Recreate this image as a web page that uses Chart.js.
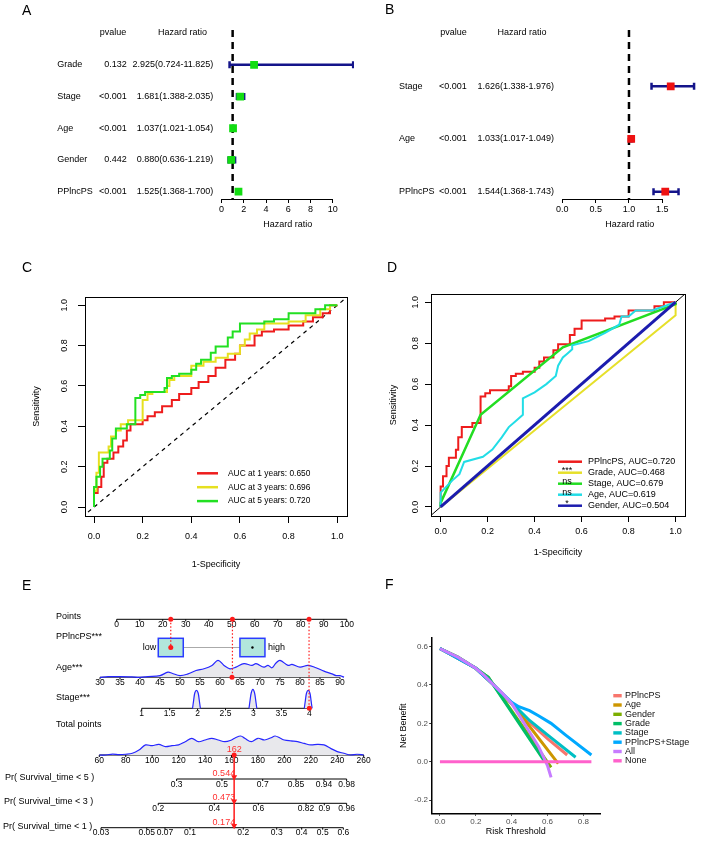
<!DOCTYPE html>
<html>
<head>
<meta charset="utf-8">
<title>Prognostic model figure</title>
<script src="https://cdn.jsdelivr.net/npm/chart.js@4.4.1/dist/chart.umd.min.js"></script>
<style>
  html, body { margin: 0; padding: 0; background: #fff; }
  #fig { position: relative; width: 708px; height: 843px; overflow: hidden; }
  #fig canvas { position: absolute; }
  .tag { position: absolute; font: 14px/14px "Liberation Sans", Arial, sans-serif; color: #000; }
</style>
</head>
<body>
<div id="fig">
  <canvas id="chartA" width="354" height="285" style="left:0;top:0"></canvas>
  <canvas id="chartB" width="354" height="285" style="left:354px;top:0"></canvas>
  <canvas id="chartC" width="354" height="290" style="left:0;top:285px"></canvas>
  <canvas id="chartD" width="354" height="290" style="left:354px;top:285px"></canvas>
  <canvas id="chartF" width="354" height="273" style="left:354px;top:570px"></canvas>
  <canvas id="chartE" width="380" height="273" style="left:0;top:570px"></canvas>
  <div class="tag" style="left:22px;top:3px">A</div>
  <div class="tag" style="left:385px;top:2px">B</div>
  <div class="tag" style="left:22px;top:260px">C</div>
  <div class="tag" style="left:387px;top:260px">D</div>
  <div class="tag" style="left:22px;top:578px">E</div>
  <div class="tag" style="left:385px;top:577px">F</div>
</div>
<script>
// ---- A: univariate Cox regression
const uniVars = ['Grade', 'Stage', 'Age', 'Gender', 'PPlncPS'];
const uniP = ['0.132', '<0.001', '<0.001', '0.442', '<0.001'];
const uniHR = [2.925, 1.681, 1.037, 0.880, 1.525];
const uniLow = [0.724, 1.388, 1.021, 0.636, 1.368];
const uniHigh = [11.825, 2.035, 1.054, 1.219, 1.700];
const uniTicks = [0, 2, 4, 6, 8, 10];

// ---- B: multivariate Cox regression
const multiVars = ['Stage', 'Age', 'PPlncPS'];
const multiP = ['<0.001', '<0.001', '<0.001'];
const multiHR = [1.626, 1.033, 1.544];
const multiLow = [1.338, 1.017, 1.368];
const multiHigh = [1.976, 1.049, 1.743];
const multiTicks = [0, 0.5, 1.0, 1.5];

// ---- C: time dependent ROC
const rocTicks = [0, 0.2, 0.4, 0.6, 0.8, 1.0];
const rocYears = [1, 3, 5];
const rocYearAuc = [0.650, 0.696, 0.720];
const roc1yFpr = [0, 0, 0.015, 0.03, 0.04, 0.055, 0.08, 0.1, 0.12, 0.135, 0.15, 0.2, 0.22, 0.25, 0.28, 0.32, 0.35, 0.4, 0.43, 0.47, 0.5, 0.54, 0.58, 0.6, 0.66, 0.69, 0.74, 0.8, 0.86, 0.9, 0.94, 0.97, 1];
const roc1yTpr = [0, 0.05, 0.07, 0.1, 0.15, 0.22, 0.24, 0.27, 0.3, 0.33, 0.38, 0.41, 0.43, 0.45, 0.47, 0.5, 0.53, 0.56, 0.59, 0.62, 0.65, 0.69, 0.73, 0.76, 0.8, 0.85, 0.87, 0.88, 0.9, 0.92, 0.94, 0.96, 1];
const roc3yFpr = [0, 0.01, 0.02, 0.06, 0.07, 0.09, 0.11, 0.14, 0.2, 0.22, 0.24, 0.3, 0.31, 0.33, 0.4, 0.45, 0.5, 0.55, 0.6, 0.62, 0.64, 0.67, 0.7, 0.8, 0.87, 0.93, 0.97, 1];
const roc3yTpr = [0, 0.08, 0.17, 0.27, 0.3, 0.35, 0.38, 0.41, 0.43, 0.53, 0.56, 0.57, 0.6, 0.63, 0.65, 0.7, 0.72, 0.74, 0.76, 0.8, 0.83, 0.86, 0.88, 0.91, 0.92, 0.95, 0.98, 1];
const roc5yFpr = [0, 0.01, 0.025, 0.035, 0.065, 0.075, 0.09, 0.135, 0.17, 0.19, 0.21, 0.29, 0.3, 0.32, 0.35, 0.4, 0.42, 0.44, 0.48, 0.5, 0.55, 0.57, 0.6, 0.7, 0.74, 0.8, 0.91, 0.95, 0.98, 1];
const roc5yTpr = [0, 0.1, 0.15, 0.2, 0.24, 0.28, 0.34, 0.39, 0.41, 0.54, 0.555, 0.57, 0.59, 0.64, 0.65, 0.66, 0.68, 0.71, 0.73, 0.765, 0.795, 0.84, 0.87, 0.91, 0.92, 0.93, 0.96, 0.98, 1.0, 1];

// ---- D: ROC of each variable (PPlncPS curve is the 5-year curve)
const varNames = ['PPlncPS', 'Grade', 'Stage', 'Age', 'Gender'];
const varAuc = [0.720, 0.468, 0.679, 0.619, 0.504];
const varSig = ['', '***', 'ns', 'ns', '*'];
const gradeFpr = [0, 1, 1];
const gradeTpr = [0, 0.936, 1];
const stageFpr = [0, 0, 0.17, 0.52, 1, 1];
const stageTpr = [0, 0.02, 0.45, 0.78, 0.99, 1];
const ageFpr = [0, 0, 0.05, 0.08, 0.1, 0.18, 0.22, 0.26, 0.29, 0.32, 0.35, 0.35, 0.4, 0.45, 0.49, 0.5, 0.52, 0.54, 0.56, 0.56, 0.63, 0.7, 0.76, 0.77, 0.8, 0.83, 0.9, 1];
const ageTpr = [0, 0.07, 0.13, 0.16, 0.22, 0.245, 0.28, 0.34, 0.39, 0.42, 0.45, 0.53, 0.56, 0.6, 0.64, 0.69, 0.73, 0.75, 0.77, 0.79, 0.81, 0.85, 0.89, 0.93, 0.93, 0.96, 0.96, 1];
const genderFpr = [0, 1];
const genderTpr = [0, 1];

// ---- E: nomogram
const pointsTicks = [0, 10, 20, 30, 40, 50, 60, 70, 80, 90, 100];
const ageTicks = [30, 35, 40, 45, 50, 55, 60, 65, 70, 75, 80, 85, 90];
const stageTicks = [1, 1.5, 2, 2.5, 3, 3.5, 4];
const totalTicks = [60, 80, 100, 120, 140, 160, 180, 200, 220, 240, 260];
const pr5Labels = ['0.3', '0.5', '0.7', '0.85', '0.94', '0.98'];
const pr5At = [118.5, 152.8, 183.6, 208.8, 230, 247.1];
const pr3Labels = ['0.2', '0.4', '0.6', '0.82', '0.9', '0.96'];
const pr3At = [104.6, 147, 180.3, 216.4, 230.2, 247.1];
const pr1Labels = ['0.03', '0.05', '0.07', '0.1', '0.2', '0.3', '0.4', '0.5', '0.6'];
const pr1At = [61.3, 95.9, 109.7, 128.6, 168.9, 194.2, 213.1, 229, 244.6];
const groupNames = ['low', 'high'];
const groupPoints = [23.5, 59];
const ageDensX = [30, 32, 35, 38, 40, 42, 45, 47, 48, 50, 52, 54, 56, 58, 59.5, 61, 62.5, 64, 66, 68, 69, 71, 72, 73, 74, 75, 77, 78, 80, 82, 84, 86, 88, 89, 90, 91];
const ageDensY = [0, 0.04, 0.04, 0.02, 0, 0.04, 0.1, 0.3, 0.24, 0.1, 0.2, 0.4, 0.5, 0.7, 1, 0.7, 0.5, 0.6, 0.8, 0.7, 0.8, 0.6, 0.7, 0.56, 0.84, 1, 0.7, 0.76, 0.6, 0.7, 0.56, 0.36, 0.2, 0.1, 0.1, 0];
const stageDensX = [1.91, 1.93, 1.95, 1.98, 2.01, 2.03, 2.05, 2.5, 2.92, 2.94, 2.96, 2.99, 3.02, 3.04, 3.06, 3.5, 3.91, 3.93, 3.95, 3.98, 4.01, 4.03, 4.05];
const stageDensY = [0, 0.45, 0.85, 1, 0.85, 0.45, 0, null, 0, 0.45, 0.85, 1.05, 0.85, 0.45, 0, null, 0, 0.45, 0.85, 1, 0.85, 0.45, 0];
const totDensX = [60, 65, 70, 75, 80, 85, 90, 95, 100, 105, 110, 115, 120, 125, 130, 135, 140, 145, 150, 155, 160, 163, 167, 170, 175, 180, 185, 190, 193, 197, 200, 205, 210, 215, 220, 225, 230, 235, 240, 245, 250, 255, 260];
const totDensY = [0, 0, 0.05, 0.02, 0.04, 0.09, 0.26, 0.53, 0.49, 0.56, 0.44, 0.49, 0.53, 0.7, 0.88, 0.7, 0.79, 0.88, 0.79, 0.7, 0.79, 0.91, 1, 0.88, 0.7, 0.88, 0.79, 0.91, 1, 0.88, 0.79, 0.74, 0.7, 0.61, 0.53, 0.56, 0.53, 0.35, 0.18, 0.09, 0, 0.04, 0];
const patientPoints = [23.5, 50.3, 83.6];   // PPlncPS low, age, stage
const patientAge = 63;
const patientStage = 4;
const patientTotal = 162;
const patientPr = ['0.544', '0.473', '0.174'];

// ---- F: decision curves
const dcaNames = ['PPlncPS', 'Age', 'Gender', 'Grade', 'Stage', 'PPlncPS+Stage', 'All', 'None'];
const dcaColors = ['#F8766D', '#CD9600', '#7CAE00', '#00BE67', '#00BFC4', '#00A9FF', '#C77CFF', '#FF61CC'];
const dcaPPlncPSX = [0, 0.2, 0.3, 0.4, 0.45, 0.5, 0.6, 0.71];
const dcaPPlncPSY = [0.59, 0.487, 0.4, 0.304, 0.255, 0.205, 0.12, 0.035];
const dcaAgeX = [0, 0.2, 0.3, 0.4, 0.45, 0.66];
const dcaAgeY = [0.59, 0.487, 0.4, 0.304, 0.245, -0.01];
const dcaGenderX = [0, 0.1, 0.2, 0.27, 0.62];
const dcaGenderY = [0.59, 0.545, 0.487, 0.44, -0.03];
const dcaGradeX = [0, 0.1, 0.2, 0.27, 0.585];
const dcaGradeY = [0.59, 0.545, 0.487, 0.44, 0.0];
const dcaStageX = [0, 0.2, 0.3, 0.4, 0.43, 0.5, 0.6, 0.757];
const dcaStageY = [0.59, 0.487, 0.4, 0.304, 0.28, 0.215, 0.14, 0.023];
const dcaComboX = [0, 0.2, 0.3, 0.4, 0.44, 0.5, 0.55, 0.62, 0.7, 0.845];
const dcaComboY = [0.59, 0.487, 0.4, 0.31, 0.287, 0.266, 0.24, 0.2, 0.14, 0.035];
const dcaAllX = [0, 0.1, 0.2, 0.25, 0.3, 0.35, 0.4, 0.45, 0.5, 0.55, 0.58, 0.6, 0.62];
const dcaAllY = [0.59, 0.545, 0.487, 0.447, 0.4, 0.355, 0.304, 0.23, 0.155, 0.08, 0.02, -0.02, -0.082];
const dcaNoneX = [0, 0.845];
const dcaNoneY = [0, 0];
const dcaXTicks = [0, 0.2, 0.4, 0.6, 0.8];
const dcaYTicks = [-0.2, 0, 0.2, 0.4, 0.6];

// ------------------------------------------------------------------
const FONT = '"Liberation Sans", Arial, Helvetica, sans-serif';
Chart.defaults.font.family = FONT;
Chart.defaults.font.size = 9;
Chart.defaults.color = '#000';
Chart.defaults.animation = false;
Chart.defaults.events = [];
Chart.defaults.layout.autoPadding = false;
Chart.defaults.plugins.legend.display = false;
Chart.defaults.plugins.tooltip.enabled = false;

const xy = (xs, ys) => xs.map((x, i) => ({ x, y: ys[i] }));
const fixedTicks = vals => s => { s.ticks = vals.map(value => ({ value })); };
const CI_BLUE = '#14148a';

// forest plot (panels A and B)
function forestChart(id, vars, pv, hr, lo, hi, ticks, markColor, lay) {
  const n = vars.length;
  const row = i => n - i;
  const at = arr => arr.map((v, i) => ({ x: v, y: row(i) }));
  const table = {
    id: 'forestTable',
    afterDraw(chart) {
      const { ctx, chartArea } = chart;
      const x = chart.scales.x, y = chart.scales.y;
      ctx.save();
      ctx.fillStyle = '#000';
      ctx.font = '9px ' + FONT;
      ctx.textBaseline = 'middle';
      ctx.textAlign = 'center';
      ctx.fillText('pvalue', lay.pHead, lay.headY);
      ctx.fillText('Hazard ratio', lay.hrHead, lay.headY);
      vars.forEach((name, i) => {
        const py = y.getPixelForValue(row(i));
        ctx.textAlign = 'left';
        ctx.fillText(name, lay.nameX, py);
        ctx.textAlign = 'right';
        ctx.fillText(pv[i], lay.pRight, py);
        ctx.fillText(hr[i].toFixed(3) + '(' + lo[i].toFixed(3) + '-' + hi[i].toFixed(3) + ')', lay.hrRight, py);
      });
      // axis line only spans the labelled ticks
      ctx.strokeStyle = '#000';
      ctx.lineWidth = 1;
      ctx.beginPath();
      ctx.moveTo(x.getPixelForValue(ticks[0]), chartArea.bottom + 0.5);
      ctx.lineTo(x.getPixelForValue(ticks[ticks.length - 1]), chartArea.bottom + 0.5);
      ctx.stroke();
      ctx.restore();
    }
  };
  const ciLines = lo.map((v, i) => ({
    data: [{ x: v, y: row(i) }, { x: hi[i], y: row(i) }],
    showLine: true, borderColor: CI_BLUE, borderWidth: 2.5, pointRadius: 0
  }));
  return new Chart(document.getElementById(id), {
    type: 'scatter',
    data: {
      datasets: [
        { data: at(hr), pointStyle: 'rect', pointRadius: 5.5, pointBackgroundColor: markColor,
          pointBorderColor: markColor, pointBorderWidth: 0 },
        { data: at(lo).concat(at(hi)), pointStyle: 'line', pointRotation: 90, pointRadius: 3.5,
          pointBorderColor: CI_BLUE, pointBorderWidth: 2.5 },
        ...ciLines,
        { data: [{ x: 1, y: lay.yMax }, { x: 1, y: lay.yMin }], showLine: true, borderColor: '#000',
          borderWidth: 2.5, borderDash: [7, 5], pointRadius: 0 }
      ]
    },
    options: {
      responsive: false,
      layout: { padding: { left: lay.left, right: lay.right, top: lay.top, bottom: lay.bottom } },
      scales: {
        x: {
          type: 'linear', min: lay.xMin, max: lay.xMax,
          afterBuildTicks: fixedTicks(ticks),
          afterFit: s => { s.height = lay.axisH; },
          ticks: { padding: 1, autoSkip: false, maxRotation: 0, callback: v => lay.fmt(v) },
          grid: { drawOnChartArea: false, tickLength: 4, color: '#000' },
          border: { display: false },
          title: { display: true, text: 'Hazard ratio', padding: { top: 0, bottom: 8.6 } }
        },
        y: { type: 'linear', display: false, min: lay.yMin, max: lay.yMax }
      }
    },
    plugins: [table]
  });
}

forestChart('chartA', uniVars, uniP, uniHR, uniLow, uniHigh, uniTicks, '#12dd12', {
  left: 221.5, right: 0, top: 30, bottom: 46, axisH: 40,
  xMin: 0, xMax: 11.9, yMin: 0.767, yMax: 6.10,
  headY: 32.7, nameX: 57.3, pRight: 126.7, hrRight: 213.3, pHead: 113, hrHead: 182.5,
  fmt: v => String(v)
});
forestChart('chartB', multiVars, multiP, multiHR, multiLow, multiHigh, multiTicks, '#ee1111', {
  left: 208.3, right: 11, top: 30, bottom: 46, axisH: 40,
  xMin: 0, xMax: 2.02, yMin: 0.861, yMax: 4.068,
  headY: 32.7, nameX: 45, pRight: 112.7, hrRight: 200, pHead: 99.5, hrHead: 168,
  fmt: v => v.toFixed(1)
});

// ROC panels (C and D), base R look
const boxPlugin = {
  id: 'box',
  afterDatasetsDraw(chart) {
    const { ctx, chartArea: a } = chart;
    ctx.save();
    ctx.strokeStyle = '#000';
    ctx.lineWidth = 1;
    ctx.strokeRect(Math.round(a.left) + 0.5, Math.round(a.top) + 0.5, Math.round(a.right - a.left), Math.round(a.bottom - a.top));
    ctx.restore();
  }
};

function rocLegend(rows, lg) {
  return {
    id: 'rocLegend',
    afterDraw(chart) {
      const ctx = chart.ctx;
      ctx.save();
      ctx.font = lg.font + 'px ' + FONT;
      ctx.textBaseline = 'middle';
      rows.forEach((r, i) => {
        const y = lg.y0 + i * lg.dy;
        ctx.strokeStyle = r.color;
        ctx.lineWidth = 2.5;
        ctx.beginPath();
        ctx.moveTo(lg.x0, y);
        ctx.lineTo(lg.x1, y);
        ctx.stroke();
        ctx.fillStyle = '#000';
        ctx.textAlign = 'left';
        ctx.fillText(r.label, lg.tx, y);
        if (r.mark) {
          ctx.textAlign = 'center';
          ctx.fillText(r.mark, lg.mx, y - 2);
        }
      });
      ctx.restore();
    }
  };
}

function rocChart(id, lay, datasets, legend) {
  return new Chart(document.getElementById(id), {
    type: 'scatter',
    data: { datasets },
    options: {
      responsive: false,
      layout: { padding: { left: 0, right: lay.right, top: lay.top, bottom: 0 } },
      elements: { point: { radius: 0 } },
      scales: {
        x: {
          type: 'linear', min: lay.xMin, max: lay.xMax,
          afterBuildTicks: fixedTicks(rocTicks),
          afterFit: s => { s.height = lay.xAxisH; },
          ticks: { padding: lay.xPad, autoSkip: false, maxRotation: 0, callback: v => v.toFixed(1) },
          grid: { drawOnChartArea: false, tickLength: lay.tl, color: '#000' },
          border: { color: '#000', width: 1 },
          title: { display: true, text: '1-Specificity', padding: { top: 0, bottom: lay.xTitlePad } }
        },
        y: {
          type: 'linear', min: -0.044, max: 1.04,
          afterBuildTicks: fixedTicks(rocTicks),
          afterFit: s => { s.width = lay.yAxisW; },
          ticks: { padding: lay.yPad, autoSkip: false, minRotation: 90, maxRotation: 90, crossAlign: 'center',
                   callback: v => v.toFixed(1) },
          grid: { drawOnChartArea: false, tickLength: lay.tl, color: '#000' },
          border: { color: '#000', width: 1 },
          title: { display: true, text: 'Sensitivity', padding: { top: lay.yTitlePad, bottom: 0 } }
        }
      }
    },
    plugins: [boxPlugin, legend]
  });
}

const C_RED = '#ee1c1c', C_YELLOW = '#e6e020', C_GREEN = '#22e022';
const diagLine = { data: [{ x: -0.05, y: -0.05 }, { x: 1.05, y: 1.05 }], showLine: true, pointRadius: 0 };

rocChart('chartC', {
  right: 7, top: 9, xMin: -0.037, xMax: 1.04, xAxisH: 59, yAxisW: 85,
  tl: 7, xPad: 8.6, xTitlePad: 4.6, yPad: 6.75, yTitlePad: 31.6
}, [
  { data: xy(roc5yFpr, roc5yTpr), showLine: true, stepped: 'after', borderColor: C_GREEN, borderWidth: 2 },
  { data: xy(roc3yFpr, roc3yTpr), showLine: true, stepped: 'after', borderColor: C_YELLOW, borderWidth: 2 },
  { data: xy(roc1yFpr, roc1yTpr), showLine: true, stepped: 'after', borderColor: C_RED, borderWidth: 2 },
  Object.assign({ borderColor: '#000', borderWidth: 1.2, borderDash: [4, 4] }, diagLine)
], rocLegend(
  rocYears.map((yr, i) => ({ label: 'AUC at ' + yr + ' years: ' + rocYearAuc[i].toFixed(3), color: [C_RED, C_YELLOW, C_GREEN][i] })),
  { font: 8.4, x0: 197, x1: 218, tx: 228, y0: 188.3, dy: 13.9 }
));

const D_COLORS = ['#ee1c1c', '#e6e02a', '#22dd22', '#22dde6', '#1c1cae'];
rocChart('chartD', {
  right: 23, top: 9, xMin: -0.041, xMax: 1.04, xAxisH: 59, yAxisW: 77,
  tl: 6, xPad: 4.6, xTitlePad: 16.6, yPad: 2.75, yTitlePad: 34.6
}, [
  { data: xy(genderFpr, genderTpr), showLine: true, borderColor: D_COLORS[4], borderWidth: 3 },
  { data: xy(ageFpr, ageTpr), showLine: true, borderColor: D_COLORS[3], borderWidth: 2 },
  { data: xy(stageFpr, stageTpr), showLine: true, borderColor: D_COLORS[2], borderWidth: 2.5 },
  { data: xy(gradeFpr, gradeTpr), showLine: true, borderColor: D_COLORS[1], borderWidth: 2 },
  { data: xy(roc5yFpr, roc5yTpr), showLine: true, stepped: 'after', borderColor: D_COLORS[0], borderWidth: 2 },
  Object.assign({ borderColor: '#000', borderWidth: 1 }, diagLine)
], rocLegend(
  varNames.map((nm, i) => ({ label: nm + ', AUC=' + varAuc[i].toFixed(3), color: D_COLORS[i], mark: varSig[i] })),
  { font: 9, x0: 204, x1: 228, tx: 234, mx: 213, y0: 176.7, dy: 11 }
));

// ---- E: nomogram
const E = {
  H: 273,
  rows: { points: 49.3, box: 77.5, age: 107.3, stage: 138.3, total: 185, pr5: 209, pr3: 233.3, pr1: 257.7 },
  labels: [
    ['Points', 56, 46.7], ['PPlncPS***', 56, 66.7], ['Age***', 56, 97.7], ['Stage***', 56, 127.7],
    ['Total points', 56, 155], ['Pr( Survival_time < 5 )', 5, 207.7],
    ['Pr( Survival_time < 3 )', 4, 231.7], ['Pr( Survival_time < 1 )', 3, 256.7]
  ]
};
const densScale = (base, h) => ({ type: 'linear', axis: 'y', display: false, min: -(E.H - base) / h, max: base / h });
const R = E.rows;
const nomoAxes = [
  { scale: 'xp', row: R.points, at: pointsTicks, text: pointsTicks },
  { scale: 'xa', row: R.age, at: ageTicks, text: ageTicks },
  { scale: 'xs', row: R.stage, at: stageTicks, text: stageTicks },
  { scale: 'x', row: R.total, at: totalTicks, text: totalTicks },
  { scale: 'x', row: R.pr5, at: pr5At, text: pr5Labels },
  { scale: 'x', row: R.pr3, at: pr3At, text: pr3Labels },
  { scale: 'x', row: R.pr1, at: pr1At, text: pr1Labels }
];
const nomoPlugin = {
  id: 'nomogram',
  beforeDatasetsDraw(chart) {
    const ctx = chart.ctx;
    ctx.save();
    ctx.fillStyle = '#000';
    ctx.font = '9px ' + FONT;
    ctx.textBaseline = 'middle';
    ctx.textAlign = 'left';
    E.labels.forEach(([t, x, y]) => ctx.fillText(t, x, y));
    ctx.font = '8.5px ' + FONT;
    ctx.textAlign = 'center';
    ctx.strokeStyle = '#000';
    ctx.lineWidth = 1;
    nomoAxes.forEach(ax => {
      const s = chart.scales[ax.scale];
      const px = ax.at.map(v => s.getPixelForValue(v));
      ctx.beginPath();
      ctx.moveTo(px[0], ax.row);
      ctx.lineTo(px[px.length - 1], ax.row);
      px.forEach(p => { ctx.moveTo(p, ax.row); ctx.lineTo(p, ax.row + 2); });
      ctx.stroke();
      px.forEach((p, i) => ctx.fillText(String(ax.text[i]), p, ax.row + 5.4));
    });
    // PPlncPS group boxes
    const xp = chart.scales.xp;
    const cx = groupPoints.map(v => xp.getPixelForValue(v));
    const bw = 25, bh = 18.4;
    ctx.strokeStyle = '#aaaaaa';
    ctx.beginPath();
    ctx.moveTo(cx[0] + bw / 2, R.box);
    ctx.lineTo(cx[1] - bw / 2, R.box);
    ctx.stroke();
    ctx.fillStyle = '#b2e6dc';
    ctx.strokeStyle = '#2a3cff';
    ctx.lineWidth = 1.5;
    cx.forEach(c => {
      ctx.fillRect(c - bw / 2, R.box - bh / 2, bw, bh);
      ctx.strokeRect(c - bw / 2, R.box - bh / 2, bw, bh);
    });
    ctx.fillStyle = '#000';
    ctx.font = '9px ' + FONT;
    ctx.textAlign = 'right';
    ctx.fillText(groupNames[0], cx[0] - bw / 2 - 2, R.box);
    ctx.textAlign = 'left';
    ctx.fillText(groupNames[1], cx[1] + bw / 2 + 3, R.box);
    ctx.restore();
  },
  afterDatasetsDraw(chart) {
    const ctx = chart.ctx;
    const px = chart.scales.x.getPixelForValue(patientTotal);
    ctx.save();
    ctx.fillStyle = '#ff3030';
    ctx.font = '9px ' + FONT;
    ctx.textBaseline = 'middle';
    ctx.textAlign = 'center';
    ctx.fillText(String(patientTotal), px, R.total - 5);
    ctx.textAlign = 'right';
    [R.pr5, R.pr3, R.pr1].forEach((r, i) => ctx.fillText(patientPr[i], px + 1, r - 5.5));
    ctx.restore();
  }
};
const RED = '#ff1a1a';
const rowAt = (xs, r) => xs.map(x => ({ x, y: r }));
new Chart(document.getElementById('chartE'), {
  type: 'scatter',
  data: {
    datasets: [
      { data: rowAt([patientTotal], R.total), pointRadius: 2.5, pointBackgroundColor: RED, pointBorderWidth: 0 },
      { data: [R.pr5, R.pr3, R.pr1].map(r => ({ x: patientTotal, y: r - 2 })), pointStyle: 'triangle', pointRotation: 180,
        pointRadius: 3.5, pointBackgroundColor: RED, pointBorderColor: RED, pointBorderWidth: 0 },
      { data: [{ x: patientTotal, y: R.total }, { x: patientTotal, y: R.pr1 }], showLine: true, borderColor: RED,
        borderWidth: 1.5, pointRadius: 0 },
      { data: rowAt(patientPoints, R.points), xAxisID: 'xp', pointRadius: 2.5, pointBackgroundColor: RED, pointBorderWidth: 0 },
      { data: rowAt([patientPoints[0]], R.box), xAxisID: 'xp', pointRadius: 2.5, pointBackgroundColor: RED, pointBorderWidth: 0 },
      { data: rowAt([patientAge], R.age), xAxisID: 'xa', pointRadius: 2.5, pointBackgroundColor: RED, pointBorderWidth: 0 },
      { data: rowAt([patientStage], R.stage), xAxisID: 'xs', pointRadius: 2.5, pointBackgroundColor: RED, pointBorderWidth: 0 },
      ...[R.box, R.age, R.stage].map((r, i) => ({
        data: [{ x: patientPoints[i], y: R.points }, { x: patientPoints[i], y: r }], xAxisID: 'xp',
        showLine: true, borderColor: RED, borderWidth: 1.2, borderDash: [1.5, 2], pointRadius: 0
      })),
      { data: rowAt([groupPoints[1]], R.box), xAxisID: 'xp', pointRadius: 1.2, pointBackgroundColor: '#000', pointBorderWidth: 0 },
      { data: xy(ageDensX, ageDensY), xAxisID: 'xa', yAxisID: 'yAge', showLine: true, tension: 0.35, pointRadius: 0,
        borderColor: '#2626ff', borderWidth: 1.2, fill: { value: 0 }, backgroundColor: '#e8e8ec' },
      { data: xy(stageDensX, stageDensY), xAxisID: 'xs', yAxisID: 'yStage', showLine: true, tension: 0.35, pointRadius: 0,
        borderColor: '#2626ff', borderWidth: 1.2, fill: { value: 0 }, backgroundColor: '#e8e8ec' },
      { data: xy(totDensX, totDensY), yAxisID: 'yTot', showLine: true, tension: 0.35, pointRadius: 0,
        borderColor: '#2626ff', borderWidth: 1.2, fill: { value: 0 }, backgroundColor: '#e8e8ec' }
    ]
  },
  options: {
    responsive: false,
    layout: { padding: { left: 95, right: 10, top: 0, bottom: 0 } },
    scales: {
      x: { type: 'linear', display: false, min: 56.75, max: 264.77 },
      xp: { type: 'linear', axis: 'x', display: false, min: -9.43, max: 110.09 },
      xa: { type: 'linear', axis: 'x', display: false, min: 28.75, max: 97.5 },
      xs: { type: 'linear', axis: 'x', display: false, min: 0.164, max: 5.086 },
      y: { type: 'linear', display: false, min: 0, max: E.H, reverse: true },
      yAge: densScale(R.age, 17),
      yStage: densScale(R.stage, 18),
      yTot: densScale(R.total, 19)
    }
  },
  plugins: [nomoPlugin]
});

// ---- F: decision curve analysis (ggplot look)
const dcaSeries = [
  [dcaPPlncPSX, dcaPPlncPSY], [dcaAgeX, dcaAgeY], [dcaGenderX, dcaGenderY], [dcaGradeX, dcaGradeY],
  [dcaStageX, dcaStageY], [dcaComboX, dcaComboY], [dcaAllX, dcaAllY], [dcaNoneX, dcaNoneY]
];
const dcaLegend = {
  id: 'dcaLegend',
  afterDraw(chart) {
    const ctx = chart.ctx;
    ctx.save();
    ctx.font = '9px ' + FONT;
    ctx.textBaseline = 'middle';
    ctx.textAlign = 'left';
    dcaNames.forEach((nm, i) => {
      const y = 125.7 + i * 9.3;
      ctx.fillStyle = dcaColors[i];
      ctx.fillRect(259.3, y - 1.7, 8.4, 3.4);
      ctx.fillStyle = '#111';
      ctx.fillText(nm, 271, y);
    });
    ctx.restore();
  }
};
new Chart(document.getElementById('chartF'), {
  type: 'scatter',
  data: {
    // ggplot draws the last level on top; Chart.js draws the first dataset on top
    datasets: dcaSeries.map((s, i) => ({
      data: xy(s[0], s[1]), showLine: true, borderColor: dcaColors[i], borderWidth: 3,
      borderCapStyle: 'butt', pointRadius: 0
    })).reverse()
  },
  options: {
    responsive: false,
    layout: { padding: { left: 0, right: 108, top: 68, bottom: 0 } },
    scales: {
      x: {
        type: 'linear', min: -0.046, max: 0.893,
        afterBuildTicks: fixedTicks(dcaXTicks),
        afterFit: s => { s.height = 29.7; },
        ticks: { padding: 1.1, color: '#4d4d4d', font: { size: 8 }, autoSkip: false, maxRotation: 0, callback: v => v.toFixed(1) },
        grid: { display: true, drawOnChartArea: false, tickLength: 2.5, color: '#333' },
        border: { color: '#000', width: 1.5 },
        title: { display: true, text: 'Risk Threshold', padding: { top: 0, bottom: 5.9 } }
      },
      y: {
        type: 'linear', min: -0.269, max: 0.645,
        afterBuildTicks: fixedTicks(dcaYTicks),
        afterFit: s => { s.width = 77.7; },
        ticks: { padding: 1.2, color: '#4d4d4d', font: { size: 8 }, autoSkip: false, callback: v => v.toFixed(1) },
        grid: { display: true, drawOnChartArea: false, tickLength: 2.5, color: '#333' },
        border: { color: '#000', width: 1.5 },
        title: { display: true, text: 'Net Benefit', padding: { top: 44.6, bottom: 0 } }
      }
    }
  },
  plugins: [dcaLegend]
});
</script>
</body>
</html>
